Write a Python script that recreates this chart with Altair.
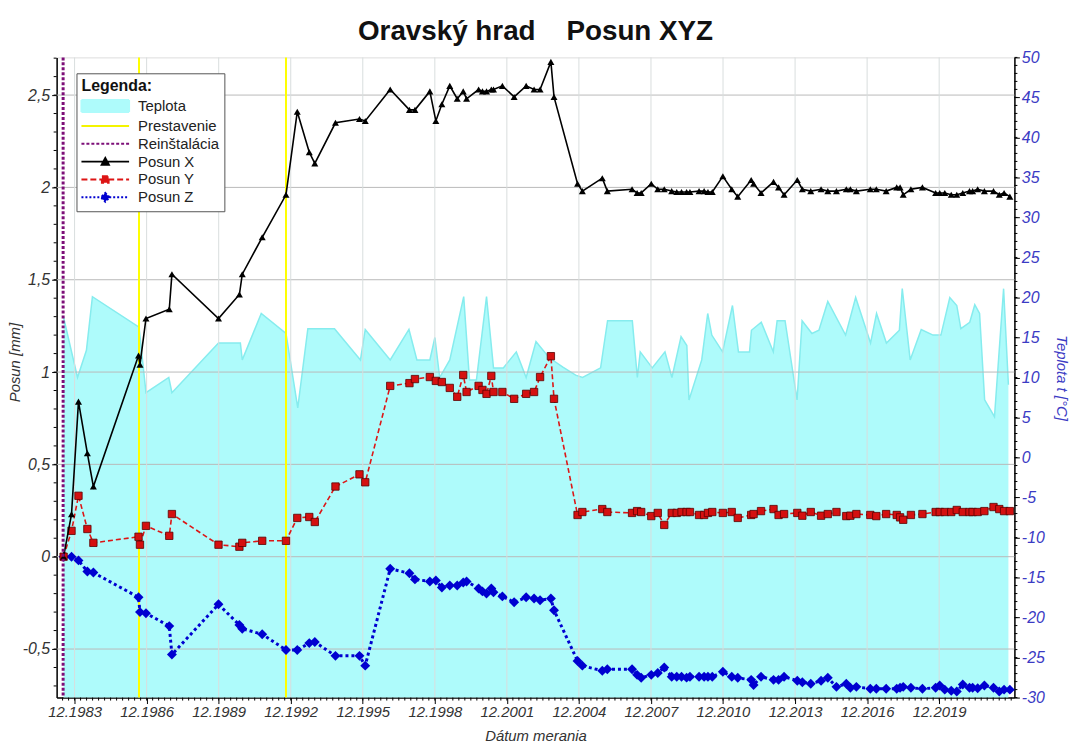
import altair as alt
import pandas as pd
import numpy as np

# ---------------- data ----------------
# measurement dates as decimal years
dates = [1983.46, 1983.79, 1984.08, 1984.45, 1984.70, 1986.58, 1986.64, 1986.89, 1987.86, 1987.97,
         1989.91, 1990.78, 1990.90, 1991.73, 1992.72, 1993.19, 1993.69, 1993.92, 1994.78, 1995.78,
         1996.02, 1997.06, 1997.86, 1998.09, 1998.71, 1998.96, 1999.21, 1999.54, 1999.85, 2000.10,
         2000.24, 2000.74, 2000.90, 2001.07, 2001.27, 2001.36, 2001.73, 2002.22, 2002.72, 2003.05,
         2003.30, 2003.75, 2003.88,
         2004.86, 2005.06, 2005.89, 2006.10, 2007.13, 2007.34, 2007.51, 2007.93, 2008.20, 2008.47,
         2008.78, 2008.99, 2009.19, 2009.40, 2009.54, 2009.92, 2010.13, 2010.29, 2010.47, 2010.91,
         2011.28, 2011.53, 2012.09, 2012.19, 2012.50, 2013.02, 2013.23, 2013.46, 2014.01, 2014.22,
         2014.57, 2015.00, 2015.28, 2015.64, 2016.05, 2016.22, 2016.47, 2017.05, 2017.30, 2017.71,
         2018.15, 2018.29, 2018.42, 2018.74, 2019.22, 2019.77, 2019.94, 2020.15, 2020.42, 2020.65,
         2020.90, 2021.18, 2021.31, 2021.52, 2021.80, 2022.18, 2022.42, 2022.62, 2022.86]

posun_x = [0.0, 0.23, 0.84, 0.56, 0.38, 1.09, 1.04, 1.29, 1.34, 1.53,
           1.29, 1.42, 1.53, 1.73, 1.96, 2.41, 2.19, 2.13, 2.35, 2.37,
           2.36, 2.53, 2.42, 2.42, 2.52, 2.36, 2.45, 2.55, 2.48, 2.52,
           2.48, 2.53, 2.52, 2.52, 2.53, 2.53, 2.55, 2.49, 2.55, 2.53,
           2.53, 2.68, 2.49,
           2.02, 1.98, 2.05, 1.98, 1.99, 1.97, 1.97, 2.02, 1.99, 1.99,
           1.98, 1.975, 1.975, 1.975, 1.975, 1.98, 1.98, 1.975, 1.975, 2.06,
           1.99, 1.95, 2.04, 2.02, 1.97, 2.03, 2.00, 1.96, 2.04, 1.99,
           1.98, 1.99, 1.98, 1.98, 1.99, 1.99, 1.98, 1.99, 1.99, 1.98,
           2.00, 2.00, 1.96, 1.99, 2.00, 1.97, 1.97, 1.97, 1.96, 1.96,
           1.97, 1.98, 1.98, 1.99, 1.98, 1.98, 1.96, 1.97, 1.95]

posun_y = [0.0, 0.14, 0.33, 0.15, 0.075, 0.108, 0.065, 0.167, 0.113, 0.231,
           0.065, 0.054, 0.075, 0.086, 0.086, 0.21, 0.215, 0.188, 0.38, 0.446,
           0.403, 0.925, 0.94, 0.962, 0.973, 0.952, 0.946, 0.914, 0.866, 0.984,
           0.892, 0.925, 0.903, 0.882, 0.979, 0.892, 0.892, 0.855, 0.882, 0.892,
           0.973, 1.086, 0.855,
           0.226, 0.242, 0.258, 0.242, 0.237, 0.247, 0.242, 0.22, 0.237, 0.172,
           0.237, 0.237, 0.242, 0.242, 0.242, 0.226, 0.226, 0.237, 0.242, 0.237,
           0.242, 0.21, 0.226, 0.231, 0.247, 0.258, 0.226, 0.231, 0.237, 0.222,
           0.242, 0.222, 0.231, 0.242, 0.22, 0.222, 0.231, 0.226, 0.22, 0.231,
           0.226, 0.213, 0.20, 0.226, 0.231, 0.242, 0.242, 0.242, 0.242, 0.253,
           0.242, 0.242, 0.242, 0.242, 0.247, 0.269, 0.258, 0.247, 0.247]

posun_z = [0.0, 0.0, -0.02, -0.08, -0.086, -0.22, -0.30, -0.306, -0.376, -0.53,
           -0.258, -0.37, -0.39, -0.42, -0.505, -0.505, -0.468, -0.462, -0.537, -0.537,
           -0.59, -0.065, -0.09, -0.123, -0.134, -0.129, -0.167, -0.156, -0.156, -0.14,
           -0.134, -0.172, -0.188, -0.199, -0.172, -0.193, -0.215, -0.247, -0.22, -0.226,
           -0.236, -0.226, -0.29,
           -0.565, -0.59, -0.618, -0.61, -0.61, -0.64, -0.656, -0.64, -0.63, -0.60,
           -0.65, -0.65, -0.65, -0.655, -0.65, -0.65, -0.65, -0.65, -0.65, -0.623,
           -0.65, -0.656, -0.667, -0.695, -0.65, -0.667, -0.667, -0.65, -0.672, -0.68,
           -0.688, -0.672, -0.656, -0.705, -0.688, -0.71, -0.705, -0.715, -0.715, -0.715,
           -0.715, -0.71, -0.705, -0.71, -0.715, -0.71, -0.698, -0.72, -0.726, -0.73,
           -0.692, -0.71, -0.71, -0.712, -0.698, -0.71, -0.73, -0.72, -0.72]

# temperature (right axis)
temp_dates = [1983.46, 1984.04, 1984.41, 1984.66, 1986.60, 1986.89, 1987.84, 1987.97, 1989.91, 1990.82,
              1990.90, 1991.69, 1992.72, 1993.21, 1993.63, 1994.74, 1995.82, 1996.02, 1997.06, 1997.84,
              1998.17, 1998.71, 1998.92, 1999.12, 1999.54, 2000.12, 2000.36, 2000.65, 2001.07, 2001.36,
              2001.77, 2002.31, 2002.72, 2003.13, 2003.67, 2004.25, 2004.78, 2005.07, 2005.82, 2006.11,
              2007.14, 2007.35, 2007.47, 2007.97, 2008.50, 2008.79, 2009.17, 2009.41, 2009.50, 2010.03,
              2010.28, 2010.45, 2010.90, 2011.31, 2011.56, 2012.02, 2012.10, 2012.51, 2013.01, 2013.17,
              2013.50, 2014.00, 2014.21, 2014.62, 2014.91, 2015.28, 2016.02, 2016.44, 2017.06, 2017.31,
              2017.72, 2018.26, 2018.38, 2018.71, 2019.17, 2019.66, 2019.99, 2020.36, 2020.65, 2020.82,
              2021.19, 2021.40, 2021.60, 2021.81, 2022.22, 2022.60, 2022.80]
temp_vals = [17.5, 10.0, 13.4, 20.1, 16.3, 8.1, 10.0, 8.1, 14.3, 14.3,
             12.2, 18.0, 15.5, 6.2, 16.1, 16.1, 12.2, 16.0, 12.2, 16.0,
             12.2, 12.2, 15.0, 10.0, 12.2, 20.1, 9.7, 9.7, 20.1, 11.2,
             11.2, 13.2, 10.0, 14.5, 12.5, 11.3, 10.3, 10.0, 11.2, 17.1,
             17.1, 10.0, 13.2, 11.2, 13.2, 10.0, 15.1, 14.0, 7.2, 12.2,
             18.0, 15.3, 13.2, 19.0, 13.2, 13.2, 15.9, 16.9, 13.2, 17.1,
             17.1, 7.2, 17.1, 15.5, 15.9, 19.5, 15.3, 20.0, 14.3, 18.0,
             14.3, 15.9, 21.1, 12.2, 16.0, 15.3, 15.3, 20.0, 19.0, 16.1,
             16.9, 19.1, 18.0, 7.2, 5.1, 21.1, 9.1]

prestavenie = [1986.60, 1992.72]
reinstalacia = [1983.44]

legend_names = ["Teplota", "Prestavenie", "Reinštalácia", "Posun X", "Posun Y", "Posun Z"]

x_ticks = [1983.917 + 3 * k for k in range(13)]
y_ticks = [-0.5, 0.0, 0.5, 1.0, 1.5, 2.0, 2.5]
t_ticks = list(range(-30, 51, 5))
x_minor = [round(1983.917 + 0.25 * k, 3) for k in range(-2, 157)]
y_minor = [round(v, 2) for v in np.arange(-0.7, 2.71, 0.1)]
t_minor = list(range(-30, 51, 1))

# ---------------- styling ----------------
W, H = 965, 645
XDOM = [1983.17, 2023.05]
YDOM = [-0.763, 2.704]
TDOM = [-30, 50]
FONT = "Liberation Sans"
BLUE_AX = "#3b3bc4"
AREA_FILL = "#aefbfb"
AREA_LINE = "#86ecee"
C_X = "#000000"
C_Y = "#dd1515"
C_Z = "#0000d0"
C_YEL = "#ffff00"
C_PUR = "#7d0f78"

xs = alt.Scale(domain=XDOM, nice=False, zero=False)
ys = alt.Scale(domain=YDOM, nice=False, zero=False)
ts = alt.Scale(domain=TDOM, nice=False, zero=False)

df = pd.DataFrame({"d": dates, "X": posun_x, "Y": posun_y, "Z": posun_z})
tdf = pd.DataFrame({"d": temp_dates, "t": temp_vals})

x_axis = alt.Axis(orient="bottom", values=x_ticks, labelExpr="'12.' + floor(datum.value)",
                  title="Dátum merania", grid=False, tickSize=6, tickColor="black",
                  domainColor="black", domainWidth=1.5, labelFont=FONT, labelFontSize=15,
                  labelFontStyle="italic", labelColor="#333", labelPadding=1, labelOverlap=False,
                  labelFlush=False, titleFont=FONT, titleFontSize=15, titleFontStyle="italic",
                  titleFontWeight="normal", titleColor="#333", titlePadding=9)
t_axis = alt.Axis(orient="right", values=t_ticks, labelExpr="toString(datum.value)",
                  title="Teplota t [°C]", grid=False, tickSize=5, tickColor="black",
                  domainColor="black", domainWidth=1.5, labelFont=FONT, labelFontSize=16,
                  labelFontStyle="italic", labelColor=BLUE_AX, labelPadding=2, labelOverlap=False,
                  labelFlush=False,
                  titleFont=FONT, titleFontSize=15, titleFontStyle="italic", titleFontWeight="normal",
                  titleColor=BLUE_AX, titlePadding=9)
y_axis = alt.Axis(orient="left", values=y_ticks, labelExpr="replace(toString(datum.value), '.', ',')",
                  title="Posun [mm]", grid=False, tickSize=5, tickColor="black",
                  domainColor="black", domainWidth=1.5, labelFont=FONT, labelFontSize=16,
                  labelFontStyle="italic", labelColor="#333", labelPadding=2, labelOverlap=False,
                  labelFlush=False,
                  titleFont=FONT, titleFontSize=15, titleFontStyle="italic", titleFontWeight="normal",
                  titleColor="#333", titlePadding=0, titleY=307)

X_ENC = alt.X("d:Q", scale=xs, axis=x_axis)

# ---------------- temperature group (right axis) ----------------
area = alt.Chart(tdf).mark_area(color=AREA_FILL, opacity=1,
                                line={"color": AREA_LINE, "strokeWidth": 1.5}).encode(
    x=X_ENC,
    y=alt.Y("t:Q", scale=ts, axis=t_axis),
    y2=alt.datum(-30),
)
t_minor_ticks = alt.Chart(pd.DataFrame({"t": t_minor})).mark_rule(color="black", strokeWidth=1).encode(
    y=alt.Y("t:Q", scale=ts, axis=t_axis),
    x=alt.value(W), x2=alt.value(W + 3),
)
temp_group = alt.layer(area, t_minor_ticks)

# ---------------- displacement group (left axis) ----------------
hgrid = alt.Chart(pd.DataFrame({"Y": y_ticks})).mark_rule(color="#b9b9b9", strokeWidth=1).encode(
    y=alt.Y("Y:Q", scale=ys, axis=y_axis))
vgrid = alt.Chart(pd.DataFrame({"d": x_ticks})).mark_rule(color="#d9dede", strokeWidth=1).encode(
    x=X_ENC)
x_minor_ticks = alt.Chart(pd.DataFrame({"d": x_minor})).mark_rule(color="black", strokeWidth=1).encode(
    x=X_ENC, y=alt.value(H), y2=alt.value(H + 3))
y_minor_ticks = alt.Chart(pd.DataFrame({"Y": y_minor})).mark_rule(color="black", strokeWidth=1).encode(
    y=alt.Y("Y:Q", scale=ys, axis=y_axis), x=alt.value(0), x2=alt.value(-3))

prest = alt.Chart(pd.DataFrame({"d": prestavenie})).mark_rule(color=C_YEL, strokeWidth=2).encode(
    x=X_ENC)
reins = alt.Chart(pd.DataFrame({"d": reinstalacia})).mark_rule(color=C_PUR, strokeWidth=3,
                                                              strokeDash=[3, 2]).encode(
    x=X_ENC)

long_df = pd.DataFrame({
    "d": dates * 3,
    "Y": posun_x + posun_y + posun_z,
    "s": ["X"] * len(dates) + ["Yv"] * len(dates) + ["Z"] * len(dates),
})
Y_ENC = alt.Y("Y:Q", scale=ys, axis=y_axis)
base = alt.Chart(long_df).encode(x=X_ENC, y=Y_ENC)
line_z = base.transform_filter("datum.s == 'Z'").mark_line(color=C_Z, strokeWidth=3, strokeDash=[3, 3])
pts_z = base.transform_filter("datum.s == 'Z'").mark_point(shape="diamond", filled=True, color=C_Z,
                                                           size=100, opacity=1)
line_y = base.transform_filter("datum.s == 'Yv'").mark_line(color=C_Y, strokeWidth=1.6, strokeDash=[5, 3])
pts_y = base.transform_filter("datum.s == 'Yv'").mark_point(shape="square", filled=True, fill="#d41010",
                                                            stroke="#5a0000", strokeWidth=0.8, size=55,
                                                            opacity=1)
line_x = base.transform_filter("datum.s == 'X'").mark_line(color=C_X, strokeWidth=1.6)
pts_x = base.transform_filter("datum.s == 'X'").mark_point(shape="triangle-up", filled=True, color=C_X,
                                                           size=50, opacity=1)

# legend (built by Vega-Lite from a hidden, clipped layer)
leg_paths = [
    "M-3,-0.75H3V0.75H-3Z",
    "M-3,0H3",
    "M-3,0H3",
    "M-3,0H3M-0.45,0.4L0,-0.45L0.45,0.4Z",
    "M-3,0H3M-0.42,-0.42H0.42V0.42H-0.42Z",
    "M-3,0H3M0,-0.55L0.55,0L0,0.55L-0.55,0Z",
]
leg_fill = [AREA_FILL, C_YEL, C_PUR, C_X, C_Y, C_Z]
leg_stroke = [AREA_FILL, "#f4f400", C_PUR, C_X, C_Y, C_Z]
leg_dash = [[1, 0], [1, 0], [3, 2], [1, 0], [6, 3], [2, 2]]
legend = alt.Legend(title="Legenda:", orient="none", legendX=20, legendY=16, padding=5,
                    strokeColor="#555", fillColor="white", cornerRadius=0,
                    titleFont=FONT, titleFontSize=16, titleFontWeight="bold", titleColor="#111",
                    titlePadding=3, labelFont=FONT, labelFontSize=15, labelColor="#222",
                    symbolSize=256, symbolStrokeWidth=2, symbolOffset=15, labelOffset=24,
                    rowPadding=1, symbolOpacity=1)
leg_df = pd.DataFrame({"serie": legend_names})
dummy = alt.Chart(leg_df).mark_point(filled=True, opacity=1, clip=True).encode(
    x=alt.value(-200), y=alt.value(-200),
    fill=alt.Fill("serie:N", scale=alt.Scale(domain=legend_names, range=leg_fill), legend=legend),
    stroke=alt.Stroke("serie:N", scale=alt.Scale(domain=legend_names, range=leg_stroke), legend=legend),
    shape=alt.Shape("serie:N", scale=alt.Scale(domain=legend_names, range=leg_paths), legend=legend),
    strokeDash=alt.StrokeDash("serie:N", scale=alt.Scale(domain=legend_names, range=leg_dash),
                              legend=legend),
)

posun_group = alt.layer(hgrid, vgrid, prest, line_z, pts_z, line_y, pts_y, line_x, pts_x,
                        reins, x_minor_ticks, y_minor_ticks, dummy)

chart = alt.layer(temp_group, posun_group).resolve_scale(y="independent").properties(
    width=W, height=H,
    title=alt.TitleParams("Oravský hrad\u00a0\u00a0\u00a0\u00a0Posun XYZ", font=FONT, fontSize=28,
                          fontWeight="bold", color="#111", anchor="middle", offset=4),
    autosize=alt.AutoSizeParams(type="none"),
    padding={"left": 49, "top": 47, "right": 55, "bottom": 46},
).configure_view(stroke="#333", strokeWidth=1).configure(background="white")

chart.save("out.html", embed_options={"renderer": "svg", "actions": False})
